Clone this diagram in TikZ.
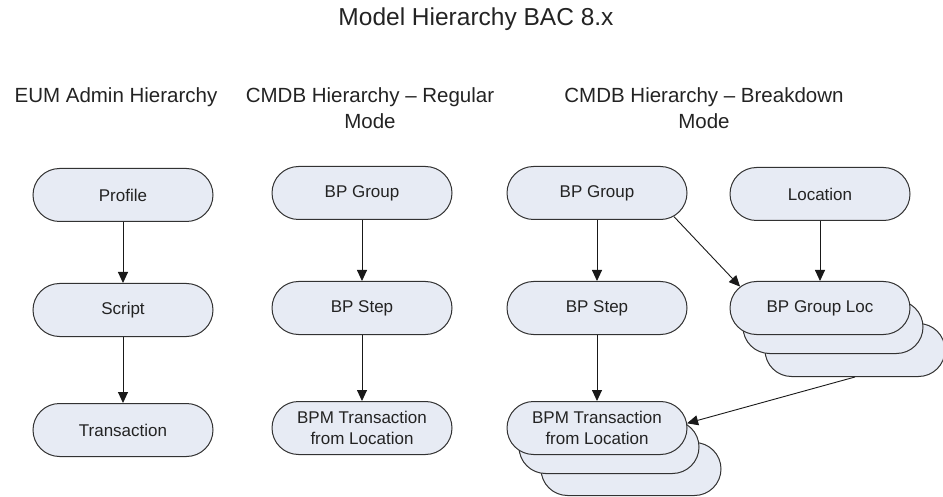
\documentclass[tikz,border=0pt]{standalone}
\usepackage{fontspec}
\setmainfont{Liberation Sans}
\usetikzlibrary{shapes.misc,arrows.meta}

\definecolor{boxfill}{RGB}{231,235,244}
\definecolor{boxline}{RGB}{50,50,50}
\definecolor{textgray}{RGB}{35,35,35}

\tikzset{
  stage/.style={rounded rectangle, draw=boxline, fill=boxfill, line width=1pt,
    minimum width=180pt, minimum height=53pt, inner sep=0pt, align=center,
    text=textgray, font=\fontsize{17}{21}\selectfont},
  heading/.style={anchor=north, inner sep=0pt, align=center, text=textgray,
    font=\fontsize{20.5}{26}\selectfont},
  link/.style={draw=black!90, line width=0.9pt, -{Triangle[length=11pt,width=10pt]}}
}

\begin{document}
\begin{tikzpicture}[x=1pt,y=-1pt]
  \useasboundingbox (0,0) rectangle (943,497);

  % titles
  \node [heading, font=\fontsize{24.5}{29}\selectfont] (title) at (476,8) {Model Hierarchy BAC 8.x};
  \node [heading] (eumhead) at (116,87) {EUM Admin Hierarchy};
  \node [heading] (reghead) at (370,87) {CMDB Hierarchy -- Regular\\Mode};
  \node [heading] (bdhead) at (704,87) {CMDB Hierarchy -- Breakdown\\Mode};

  % EUM admin column
  \node [stage] (profile) at (123,195) {Profile};
  \node [stage] (script) at (123,310) {Script};
  \node [stage] (trans) at (123,430) {Transaction};
  \draw [link] (profile) -- (script);
  \draw [link] (script) -- (trans);

  % regular mode column
  \node [stage] (reggrp) at (362,193) {BP Group};
  \node [stage] (regstep) at (362,308) {BP Step};
  \node [stage] (regbpm) at (362,428) {BPM Transaction\\from Location};
  \draw [link] (reggrp) -- (regstep);
  \draw [link] (regstep) -- (regbpm);

  % breakdown mode column
  \node [stage] (bdgrp) at (597,193) {BP Group};
  \node [stage] (bdloc) at (820,194) {Location};
  \node [stage] (bdstep) at (597,308) {BP Step};
  \node [stage] (grploc3) at (855,350) {};
  \node [stage] (grploc2) at (833,327) {};
  \node [stage] (grploc) at (820,308) {BP Group Loc};
  \node [stage] (bdbpm3) at (631,469) {};
  \node [stage] (bdbpm2) at (609,447) {};
  \node [stage] (bdbpm) at (597,428) {BPM Transaction\\from Location};
  \draw [link] (bdgrp) -- (bdstep);
  \draw [link] (bdloc) -- (grploc);
  \draw [link] (bdgrp.-17) -- (grploc.165);
  \draw [link] (bdstep) -- (bdbpm);
  \draw [link] (grploc3.south) -- (bdbpm.3);
\end{tikzpicture}
\end{document}
